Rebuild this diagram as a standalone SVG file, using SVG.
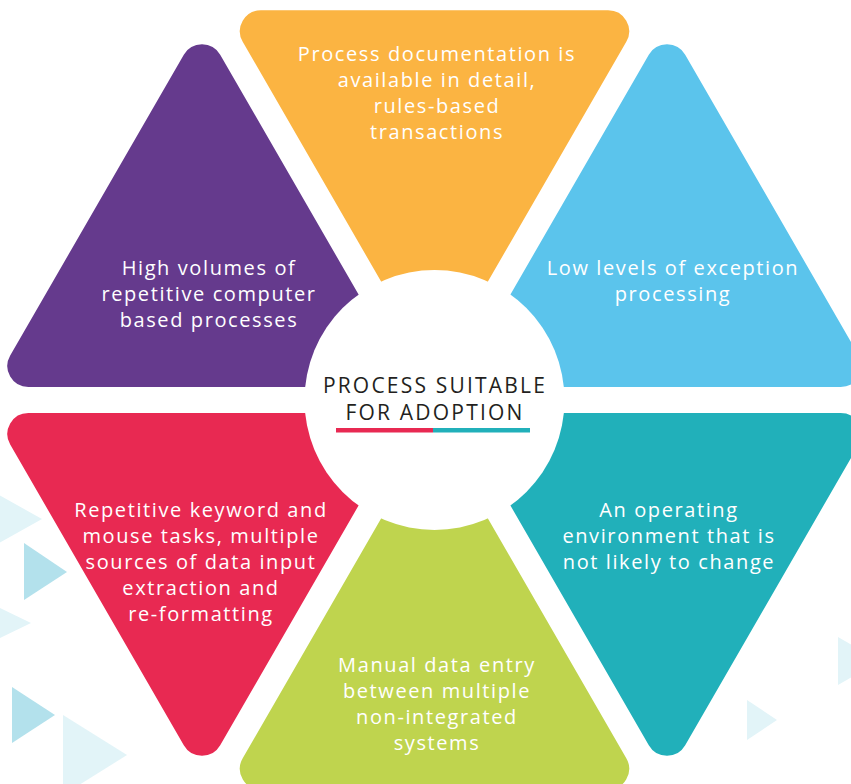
<svg xmlns="http://www.w3.org/2000/svg" xmlns:xlink="http://www.w3.org/1999/xlink" width="851" height="784" viewBox="0 0 851 784">
<style>
.lbl{font-family:"Open Sans","Liberation Sans",sans-serif;font-size:20px;letter-spacing:1.6px;fill:#ffffff;text-anchor:middle}
.ttl{font-family:"Open Sans","Liberation Sans",sans-serif;font-size:21px;font-weight:500;letter-spacing:2.2px;fill:#231f20;text-anchor:middle}
.pale{fill:#e2f4f8}
.mid{fill:#b3e1ec}
</style>
<defs>
<path id="tri" d="M-18.19,-211 A21,21 0 0 1 18.19,-211 L191.8,89.7 A21,21 0 0 1 173.6,121.2 L-173.6,121.2 A21,21 0 0 1 -191.8,89.7 Z"/>
</defs>
<g id="background">
<polygon class="pale" points="-10,490 -10,548 42,519"/>
<polygon class="mid" points="24,543 24,600 67,572"/>
<polygon class="pale" points="-10,603 -10,643 31,623"/>
<polygon class="mid" points="12,687 12,743 55,715"/>
<polygon class="pale" points="63,715 63,795 127,755"/>
<polygon class="pale" points="838,637 838,685 880,661"/>
<polygon class="pale" points="747,700 747,740 777,720"/>
</g>
<g id="node-yellow">
<use xlink:href="#tri" href="#tri" transform="translate(434.5,131.5) scale(1,-1)" fill="#fbb442"/>
<text class="lbl" x="437" y="61">Process documentation is</text>
<text class="lbl" x="437" y="87">available in detail,</text>
<text class="lbl" x="437" y="113">rules-based</text>
<text class="lbl" x="437" y="139">transactions</text>
</g>
<g id="node-purple">
<use xlink:href="#tri" href="#tri" transform="translate(202,265.8)" fill="#653a8d"/>
<text class="lbl" x="209" y="275">High volumes of</text>
<text class="lbl" x="209" y="301">repetitive computer</text>
<text class="lbl" x="209" y="327">based processes</text>
</g>
<g id="node-blue">
<use xlink:href="#tri" href="#tri" transform="translate(667,265.8)" fill="#5bc4ec"/>
<text class="lbl" x="673" y="275">Low levels of exception</text>
<text class="lbl" x="673" y="301">processing</text>
</g>
<g id="node-pink">
<use xlink:href="#tri" href="#tri" transform="translate(202,534.2) scale(1,-1)" fill="#e82952"/>
<text class="lbl" x="201" y="517">Repetitive keyword and</text>
<text class="lbl" x="201" y="543">mouse tasks, multiple</text>
<text class="lbl" x="201" y="569">sources of data input</text>
<text class="lbl" x="201" y="595">extraction and</text>
<text class="lbl" x="201" y="621">re-formatting</text>
</g>
<g id="node-teal">
<use xlink:href="#tri" href="#tri" transform="translate(667,534.2) scale(1,-1)" fill="#21b0ba"/>
<text class="lbl" x="669" y="517">An operating</text>
<text class="lbl" x="669" y="543">environment that is</text>
<text class="lbl" x="669" y="569">not likely to change</text>
</g>
<g id="node-green">
<use xlink:href="#tri" href="#tri" transform="translate(434.5,668.5)" fill="#bfd44e"/>
<text class="lbl" x="437" y="672">Manual data entry</text>
<text class="lbl" x="437" y="698">between multiple</text>
<text class="lbl" x="437" y="724">non-integrated</text>
<text class="lbl" x="437" y="750">systems</text>
</g>
<g id="node-center">
<circle cx="434.5" cy="400" r="130" fill="#ffffff"/>
<text class="ttl" x="435" y="393">PROCESS SUITABLE</text>
<text class="ttl" x="435" y="420">FOR ADOPTION</text>
<rect x="336" y="428" width="97" height="4.5" fill="#e82952"/>
<rect x="433" y="428" width="97" height="4.5" fill="#21b0ba"/>
</g>
<g id="connectors"/>
</svg>
